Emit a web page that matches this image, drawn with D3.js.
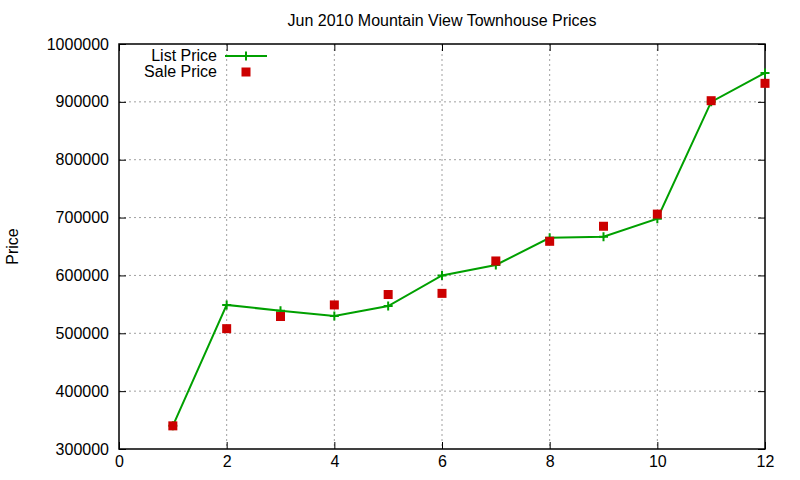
<!DOCTYPE html>
<html>
<head>
<meta charset="utf-8">
<script src="https://cdn.jsdelivr.net/npm/d3@7"></script>
<style>
  body { margin: 0; background: #fff; }
  svg { font-family: "Liberation Sans", Arial, sans-serif; }
</style>
</head>
<body>
<svg id="chart" width="800" height="480"></svg>
<script>
// data
const months = [1, 2, 3, 4, 5, 6, 7, 8, 9, 10, 11, 12];
const listPrice = [340000, 549000, 539000, 530000, 547000, 600000, 618000, 665000, 667000, 698000, 900000, 950000];
const salePrice = [340000, 508000, 529000, 549000, 567000, 569000, 625000, 659000, 685000, 706000, 902000, 932000];
const xTicks = [0, 2, 4, 6, 8, 10, 12];
const yTicks = [300000, 400000, 500000, 600000, 700000, 800000, 900000, 1000000];

const margin = { top: 44, right: 35, bottom: 31, left: 119 },
    width = 800 - margin.left - margin.right,
    height = 480 - margin.top - margin.bottom;

const svg = d3.select("#chart");
const g = svg.append("g")
    .attr("transform", "translate(" + margin.left + "," + margin.top + ")");

const x = d3.scaleLinear().domain([0, 12]).range([0, width]);
const y = d3.scaleLinear().domain([300000, 1000000]).range([height, 0]);

// grid
g.append("g").selectAll("line").data(xTicks.slice(1, -1)).enter().append("line")
    .attr("x1", d => x(d)).attr("x2", d => x(d))
    .attr("y1", 0).attr("y2", height)
    .attr("stroke", "#a0a0a0").attr("stroke-dasharray", "2,3");
g.append("g").selectAll("line").data(yTicks.slice(1, -1)).enter().append("line")
    .attr("x1", 0).attr("x2", width)
    .attr("y1", d => y(d)).attr("y2", d => y(d))
    .attr("stroke", "#a0a0a0").attr("stroke-dasharray", "2,3");

// axes, ticks inward and mirrored like gnuplot
const fmt = d3.format("d");
const xAxis = d3.axisBottom(x).tickValues(xTicks).tickSize(-7).tickPadding(7).tickFormat(fmt);
const xTop = d3.axisTop(x).tickValues(xTicks).tickSize(-7).tickFormat("");
const yAxis = d3.axisLeft(y).tickValues(yTicks).tickSize(-7).tickPadding(10).tickFormat(fmt);
const yRight = d3.axisRight(y).tickValues(yTicks).tickSize(-7).tickFormat("");

g.append("g").attr("transform", "translate(0," + height + ")").call(xAxis);
g.append("g").call(xTop);
g.append("g").call(yAxis);
g.append("g").attr("transform", "translate(" + width + ",0)").call(yRight);

g.selectAll(".domain").remove();
g.selectAll(".tick line").attr("stroke", "#000");
g.selectAll(".tick text").attr("fill", "#000").style("font-size", "16px");

g.append("rect").attr("width", width).attr("height", height)
    .attr("fill", "none").attr("stroke", "#000").attr("stroke-width", 1.5);

const green = "#00a000", red = "#cc0000";

// list price line
const line = d3.line().x((d, i) => x(months[i])).y(d => y(d));
g.append("path").datum(listPrice).attr("d", line)
    .attr("fill", "none").attr("stroke", green).attr("stroke-width", 2);

function plusPath(cx, cy, s) {
    return "M" + (cx - s) + "," + cy + "H" + (cx + s) + "M" + cx + "," + (cy - s) + "V" + (cy + s);
}
g.append("g").selectAll("path").data(listPrice).enter().append("path")
    .attr("d", (d, i) => plusPath(x(months[i]), y(d), 4.5))
    .attr("stroke", green).attr("stroke-width", 2);

// sale price squares
g.append("g").selectAll("rect").data(salePrice).enter().append("rect")
    .attr("x", (d, i) => x(months[i]) - 4.5)
    .attr("y", d => y(d) - 4.5)
    .attr("width", 9).attr("height", 9)
    .attr("fill", red);

// legend
const leg = svg.append("g");
leg.append("text").attr("x", 217).attr("y", 61).attr("text-anchor", "end")
    .style("font-size", "16px").text("List Price");
leg.append("line").attr("x1", 225).attr("x2", 267).attr("y1", 56).attr("y2", 56)
    .attr("stroke", green).attr("stroke-width", 2);
leg.append("path").attr("d", plusPath(246, 56, 4.5)).attr("stroke", green).attr("stroke-width", 2);
leg.append("text").attr("x", 217).attr("y", 77).attr("text-anchor", "end")
    .style("font-size", "16px").text("Sale Price");
leg.append("rect").attr("x", 241.5).attr("y", 67.5).attr("width", 9).attr("height", 9).attr("fill", red);

// title and y label
svg.append("text").attr("x", margin.left + width / 2).attr("y", 26)
    .attr("text-anchor", "middle").style("font-size", "16px")
    .text("Jun 2010 Mountain View Townhouse Prices");
svg.append("text").attr("transform", "translate(18," + (margin.top + height / 2) + ") rotate(-90)")
    .attr("text-anchor", "middle").style("font-size", "16px").text("Price");
</script>
</body>
</html>
